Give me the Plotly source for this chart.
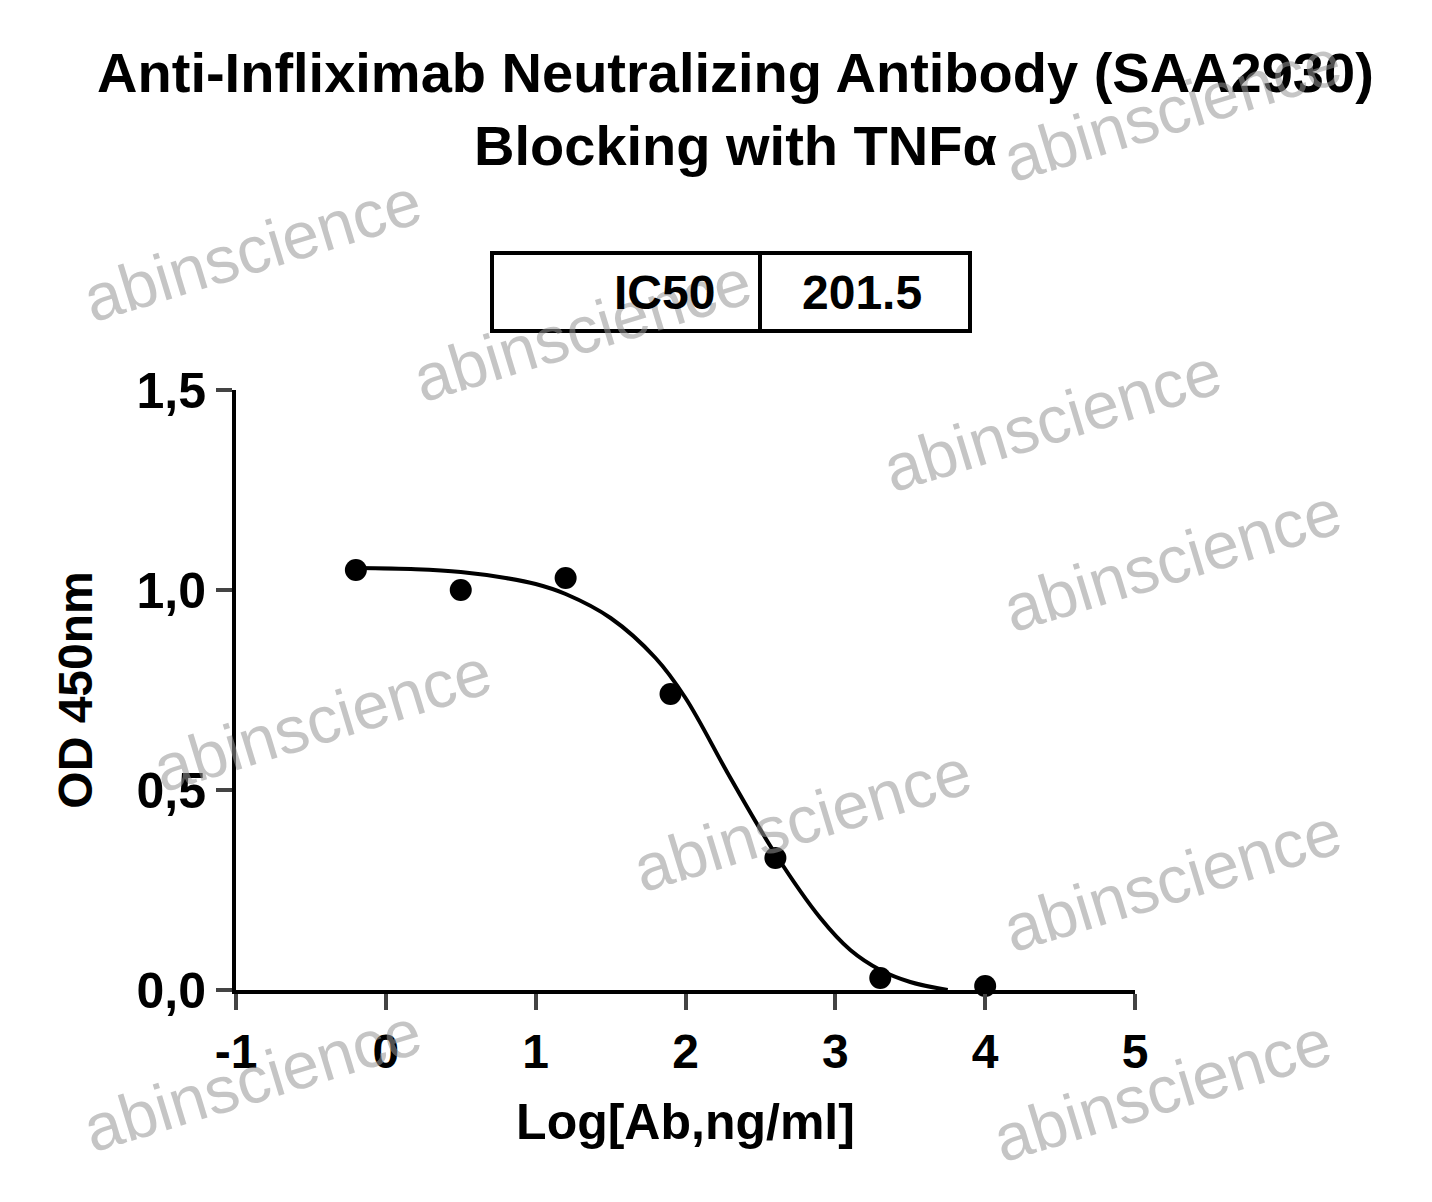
import plotly.graph_objects as go

x_pts = [-0.2, 0.5, 1.2, 1.9, 2.6, 3.3, 4.0]
y_pts = [1.05, 1.0, 1.03, 0.74, 0.33, 0.03, 0.01]
curve_x = [-0.2, 0.2, 0.5, 0.8, 1.0, 1.2, 1.5, 1.8, 2.0, 2.3, 2.6, 2.9, 3.1, 3.3, 3.5, 3.75]
curve_y = [1.055, 1.052, 1.045, 1.03, 1.015, 0.99, 0.93, 0.83, 0.73, 0.53, 0.34, 0.18, 0.10, 0.05, 0.02, 0.0]
x_ticks = [-1, 0, 1, 2, 3, 4, 5]
y_ticks = [0, 0.5, 1.0, 1.5]
y_tick_text = ["0,0", "0,5", "1,0", "1,5"]
ic50 = "201.5"

font = "Liberation Sans, Arial, sans-serif"
L, R, T, B = 228, 1127, 382, 982
def px2x(p): return (p - 234) / (1133 - 234)
def py2y(p): return (990 - p) / (990 - 390)

fig = go.Figure()
fig.add_trace(go.Scatter(x=curve_x, y=curve_y, mode="lines", line=dict(color="black", width=4, shape="spline"), showlegend=False))
fig.add_trace(go.Scatter(x=x_pts, y=y_pts, mode="markers", marker=dict(color="black", size=22), showlegend=False, cliponaxis=False))

wm = [(250, 250), (580, 330), (1050, 420), (320, 720), (800, 820), (1170, 560),
      (1170, 880), (250, 1080), (1160, 1090), (1170, 110)]
for px, py in wm:
    fig.add_annotation(x=px2x(px), y=py2y(py), xref="paper", yref="paper", text="abinscience",
                       xanchor="center", yanchor="middle",
                       showarrow=False, textangle=-17, font=dict(size=66, color="rgba(150,150,150,0.55)", family=font))

fig.update_layout(
    width=1432, height=1202, paper_bgcolor="white", plot_bgcolor="white",
    margin=dict(l=L, r=1432 - R, t=T, b=1202 - B),
    title=dict(text="<b>Anti-Infliximab Neutralizing Antibody (SAA2930)<br>Blocking with TNFα</b>",
               x=0.508, xanchor="center", yref="container", y=1 - 84 / 1202, yanchor="middle",
               font=dict(size=56, color="black", family=font)),
    xaxis=dict(range=[-1, 5], tickvals=x_ticks, ticktext=["<b>%d</b>" % v for v in x_ticks],
               showline=True, linecolor="black", linewidth=4, ticks="outside",
               ticklen=16, tickwidth=4, showgrid=False, zeroline=False,
               tickfont=dict(size=48, family=font, color="black"),
               title=dict(text="<b>Log[Ab,ng/ml]</b>", standoff=28, font=dict(size=50, family=font, color="black"))),
    yaxis=dict(range=[0, 1.5], tickvals=y_ticks, ticktext=["<b>%s</b>" % t for t in y_tick_text], showline=True,
               linecolor="black", linewidth=4, ticks="outside", ticklen=16, tickwidth=4, showgrid=False, zeroline=False,
               tickfont=dict(size=50, family=font, color="black"),
               title=dict(text="<b>OD 450nm</b>", standoff=30, font=dict(size=48, family=font, color="black"))),
)

fig.add_shape(type="rect", xref="paper", yref="paper", x0=px2x(490), x1=px2x(968), y0=py2y(331), y1=py2y(253),
              line=dict(color="black", width=4))
fig.add_shape(type="line", xref="paper", yref="paper", x0=px2x(758), x1=px2x(758), y0=py2y(331), y1=py2y(253),
              line=dict(color="black", width=4))
fig.add_annotation(x=px2x(662), y=py2y(292), xref="paper", yref="paper", text="<b>IC50</b>", showarrow=False,
                   xanchor="center", yanchor="middle", font=dict(size=48, family=font, color="black"))
fig.add_annotation(x=px2x(860), y=py2y(292), xref="paper", yref="paper", text="<b>%s</b>" % ic50, showarrow=False,
                   xanchor="center", yanchor="middle", font=dict(size=48, family=font, color="black"))

fig.write_html("out.html")
